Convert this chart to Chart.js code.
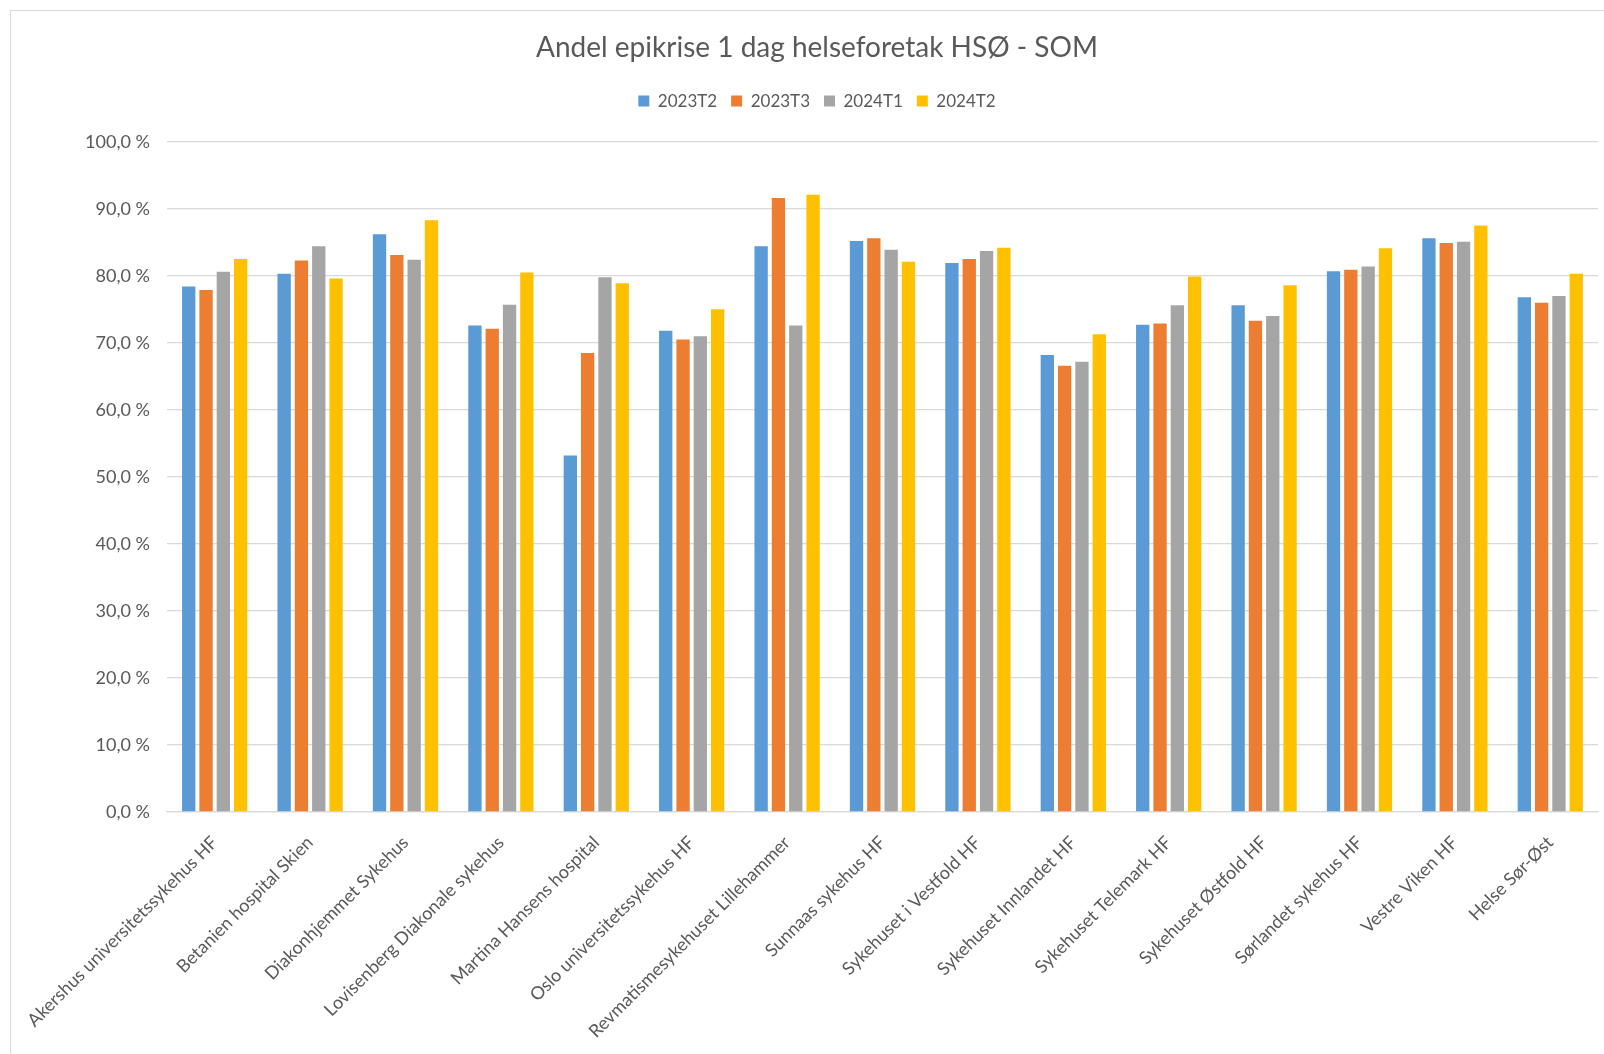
<!DOCTYPE html>
<html>
<head>
<meta charset="utf-8">
<title>Andel epikrise 1 dag helseforetak HSØ - SOM</title>
<script src="https://cdn.jsdelivr.net/npm/chart.js@4/dist/chart.umd.min.js"></script>
<style>
  html, body { margin: 0; padding: 0; background: #fff; overflow: hidden; }
  #ramme { position: absolute; left: 10px; top: 10px; width: 1700px; height: 1200px; border: 1px solid #d9d9d9; }
  #grafico { position: absolute; left: 0; top: 0; }
</style>
</head>
<body>
<div id="ramme"></div>
<canvas id="grafico" width="1604" height="1054"></canvas>
<script>
// helseforetak (kategorier)
const foretak = [
  'Akershus universitetssykehus HF',
  'Betanien hospital Skien',
  'Diakonhjemmet Sykehus',
  'Lovisenberg Diakonale sykehus',
  'Martina Hansens hospital',
  'Oslo universitetssykehus HF',
  'Revmatismesykehuset Lillehammer',
  'Sunnaas sykehus HF',
  'Sykehuset i Vestfold HF',
  'Sykehuset Innlandet HF',
  'Sykehuset Telemark HF',
  'Sykehuset Østfold HF',
  'Sørlandet sykehus HF',
  'Vestre Viken HF',
  'Helse Sør-Øst'
];

const perioder = ['2023T2', '2023T3', '2024T1', '2024T2'];

// andel i prosent, lest av figuren
const v2023T2 = [78.4, 80.3, 86.2, 72.6, 53.2, 71.8, 84.4, 85.2, 81.9, 68.2, 72.7, 75.6, 80.7, 85.6, 76.8];
const v2023T3 = [77.9, 82.3, 83.1, 72.1, 68.5, 70.5, 91.6, 85.6, 82.5, 66.6, 72.9, 73.3, 80.9, 84.9, 76.0];
const v2024T1 = [80.6, 84.4, 82.4, 75.7, 79.8, 71.0, 72.6, 83.9, 83.7, 67.2, 75.6, 74.0, 81.4, 85.1, 77.0];
const v2024T2 = [82.5, 79.6, 88.3, 80.5, 78.9, 75.0, 92.1, 82.1, 84.2, 71.3, 79.9, 78.6, 84.1, 87.5, 80.3];

const yTicks = [0, 10, 20, 30, 40, 50, 60, 70, 80, 90, 100];

const farger = ['#5B9BD5', '#ED7D31', '#A5A5A5', '#FFC000'];
const verdier = [v2023T2, v2023T3, v2024T1, v2024T2];
const tekstfarge = '#595959';

Chart.defaults.font.family = 'Lato, "Open Sans", sans-serif';
Chart.defaults.color = tekstfarge;

const ctx = document.getElementById('grafico').getContext('2d');
new Chart(ctx, {
  type: 'bar',
  data: {
    labels: foretak,
    datasets: perioder.map((p, i) => ({
      label: p,
      data: verdier[i],
      backgroundColor: farger[i],
      borderWidth: 0,
      barPercentage: 0.77,
      categoryPercentage: 0.726
    }))
  },
  options: {
    responsive: false,
    animation: false,
    layout: {
      autoPadding: false,
      padding: { left: 36, right: 6, top: 0, bottom: 0 }
    },
    plugins: {
      title: {
        display: true,
        text: 'Andel epikrise 1 dag helseforetak HSØ - SOM',
        color: tekstfarge,
        font: { size: 28, weight: 'normal' },
        padding: { top: 31, bottom: 14 }
      },
      subtitle: {
        // brukes bare som luft mellom legend og plottet
        display: true,
        text: ' ',
        weight: 500,
        font: { size: 1 },
        padding: { top: 0, bottom: 21 }
      },
      legend: {
        display: true,
        position: 'top',
        labels: {
          boxWidth: 11,
          boxHeight: 11,
          padding: 14,
          color: tekstfarge,
          font: { size: 17 }
        }
      },
      tooltip: { enabled: false }
    },
    scales: {
      x: {
        afterFit: scale => { scale.height = 242; },
        grid: { display: false },
        border: { display: true, color: '#d9d9d9', width: 1.3 },
        ticks: {
          autoSkip: false,
          maxRotation: 45,
          minRotation: 45,
          padding: 12,
          color: tekstfarge,
          font: { size: 18 }
        }
      },
      y: {
        min: 0,
        max: 100,
        afterFit: scale => { scale.width = 131; },
        afterBuildTicks: scale => { scale.ticks = yTicks.map(v => ({ value: v })); },
        grid: { color: '#d9d9d9', lineWidth: 1.3, drawTicks: false },
        border: { display: false },
        ticks: {
          padding: 17,
          color: tekstfarge,
          font: { size: 18 },
          callback: v => v.toFixed(1).replace('.', ',') + ' %'
        }
      }
    }
  }
});
</script>
</body>
</html>
